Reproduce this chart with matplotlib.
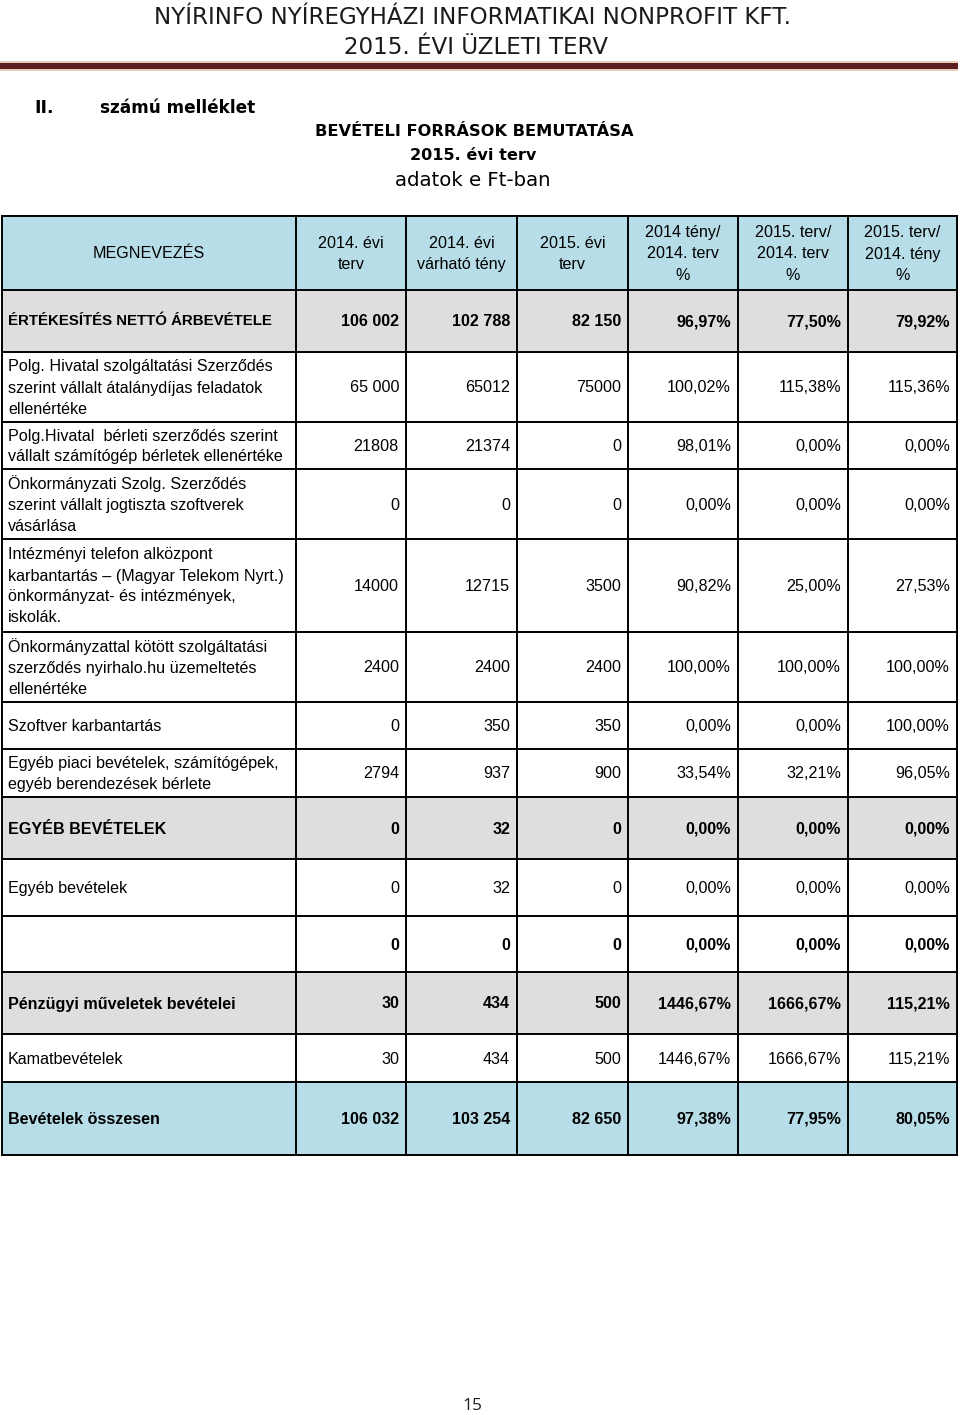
import matplotlib
matplotlib.use("Agg")
import matplotlib.pyplot as plt
from matplotlib.patches import Rectangle

# ---------------- data ----------------
col_headers = ["MEGNEVEZÉS", "2014. évi\nterv", "2014. évi\nvárható tény", "2015. évi\nterv",
               "2014 tény/\n2014. terv\n%", "2015. terv/\n2014. terv\n%", "2015. terv/\n2014. tény\n%"]

row_labels = [
    "ÉRTÉKESÍTÉS NETTÓ ÁRBEVÉTELE",
    "Polg. Hivatal szolgáltatási Szerződés\nszerint vállalt átalánydíjas feladatok\nellenértéke",
    "Polg.Hivatal  bérleti szerződés szerint\nvállalt számítógép bérletek ellenértéke",
    "Önkormányzati Szolg. Szerződés\nszerint vállalt jogtiszta szoftverek\nvásárlása",
    "Intézményi telefon alközpont\nkarbantartás – (Magyar Telekom Nyrt.)\nönkormányzat- és intézmények,\niskolák.",
    "Önkormányzattal kötött szolgáltatási\nszerződés nyirhalo.hu üzemeltetés\nellenértéke",
    "Szoftver karbantartás",
    "Egyéb piaci bevételek, számítógépek,\negyéb berendezések bérlete",
    "EGYÉB BEVÉTELEK",
    "Egyéb bevételek",
    "",
    "Pénzügyi műveletek bevételei",
    "Kamatbevételek",
    "Bevételek összesen",
]
terv_2014 = ["106 002", "65 000", "21808", "0", "14000", "2400", "0", "2794", "0", "0", "0", "30", "30", "106 032"]
varhato_2014 = ["102 788", "65012", "21374", "0", "12715", "2400", "350", "937", "32", "32", "0", "434", "434", "103 254"]
terv_2015 = ["82 150", "75000", "0", "0", "3500", "2400", "350", "900", "0", "0", "0", "500", "500", "82 650"]
pct_teny_terv = ["96,97%", "100,02%", "98,01%", "0,00%", "90,82%", "100,00%", "0,00%", "33,54%", "0,00%", "0,00%", "0,00%", "1446,67%", "1446,67%", "97,38%"]
pct_terv15_terv14 = ["77,50%", "115,38%", "0,00%", "0,00%", "25,00%", "100,00%", "0,00%", "32,21%", "0,00%", "0,00%", "0,00%", "1666,67%", "1666,67%", "77,95%"]
pct_terv15_teny14 = ["79,92%", "115,36%", "0,00%", "0,00%", "27,53%", "100,00%", "100,00%", "96,05%", "0,00%", "0,00%", "0,00%", "115,21%", "115,21%", "80,05%"]
row_kind = ["section", "item", "item", "item", "item", "item", "item", "item",
            "section", "item", "bold", "section", "item", "total"]

# ---------------- layout ----------------
col_edges = [2, 296, 406, 517, 628, 738, 848, 957]
row_edges = [216, 290, 352, 422, 469, 539, 632, 702, 749, 797, 859, 916, 972, 1034, 1082, 1155]

BLUE = "#b7dde8"
GRAY = "#dedede"
FONT = "Liberation Sans"
FS = 11.6
TITLE_FONT = "DejaVu Sans"

fig = plt.figure(figsize=(9.6, 14.15), dpi=100)
ax = fig.add_axes([0, 0, 1, 1])
ax.set_xlim(0, 960)
ax.set_ylim(1415, 0)
ax.axis("off")

# page header
ax.text(472, 18, "NYÍRINFO NYÍREGYHÁZI INFORMATIKAI NONPROFIT KFT.", ha="center", va="center",
        fontsize=16.6, family=TITLE_FONT, color="#1a1a1a")
ax.text(476, 47, "2015. ÉVI ÜZLETI TERV", ha="center", va="center",
        fontsize=16.6, family=TITLE_FONT, color="#1a1a1a")
ax.add_patch(Rectangle((0, 61), 958, 10, facecolor="#e8cdb8", edgecolor="none"))
ax.add_patch(Rectangle((0, 63), 958, 6, facecolor="#5c1f1f", edgecolor="none"))

ax.text(34, 108, "II.", ha="left", va="center", fontsize=12.4, family=TITLE_FONT, weight="bold")
ax.text(100, 108, "számú melléklet", ha="left", va="center", fontsize=12.2, family=TITLE_FONT, weight="bold")
ax.text(474, 131, "BEVÉTELI FORRÁSOK BEMUTATÁSA", ha="center", va="center", fontsize=11.7,
        family=TITLE_FONT, weight="bold")
ax.text(473, 156, "2015. évi terv", ha="center", va="center", fontsize=11.6, family=TITLE_FONT, weight="bold")
ax.text(473, 181, "adatok e Ft-ban", ha="center", va="center", fontsize=14.2, family=TITLE_FONT)

# header row
y0, y1 = row_edges[0], row_edges[1]
ax.add_patch(Rectangle((col_edges[0], y0), col_edges[-1] - col_edges[0], y1 - y0,
                       facecolor=BLUE, edgecolor="none"))
for c, h in enumerate(col_headers):
    xc = (col_edges[c] + col_edges[c + 1]) / 2
    ax.text(xc, (y0 + y1) / 2 + 1, h, ha="center", va="center", fontsize=FS, family=FONT,
            linespacing=1.55)

# body rows
columns = [terv_2014, varhato_2014, terv_2015, pct_teny_terv, pct_terv15_terv14, pct_terv15_teny14]
for r, label in enumerate(row_labels):
    y0, y1 = row_edges[r + 1], row_edges[r + 2]
    yc = (y0 + y1) / 2
    kind = row_kind[r]
    if kind == "section":
        ax.add_patch(Rectangle((col_edges[0], y0), col_edges[-1] - col_edges[0], y1 - y0,
                               facecolor=GRAY, edgecolor="none"))
    elif kind == "total":
        ax.add_patch(Rectangle((col_edges[0], y0), col_edges[-1] - col_edges[0], y1 - y0,
                               facecolor=BLUE, edgecolor="none"))
    bold = kind in ("section", "bold", "total")
    w = "bold" if bold else "normal"
    if r == 0:
        ax.text(8, yc, label, ha="left", va="center",
                fontsize=10.8, family=FONT, weight=w)
    else:
        ax.text(col_edges[0] + 6, yc + 1, label, ha="left", va="center", fontsize=FS, family=FONT,
                weight=w, linespacing=1.5)
    for c, col in enumerate(columns):
        ax.text(col_edges[c + 2] - 7, yc + 1, col[r], ha="right", va="center", fontsize=FS,
                family=FONT, weight=w)

# grid lines
top, bottom = row_edges[0], row_edges[-1]
for x in col_edges:
    ax.plot([x, x], [top, bottom], color="black", lw=1.4, solid_capstyle="projecting")
for y in row_edges:
    ax.plot([col_edges[0], col_edges[-1]], [y, y], color="black", lw=1.4, solid_capstyle="projecting")

# page number
ax.text(472, 1406, "15", ha="center", va="center", fontsize=12.5, family="Open Sans", color="#222222")

fig.savefig("out.png", dpi=100)
